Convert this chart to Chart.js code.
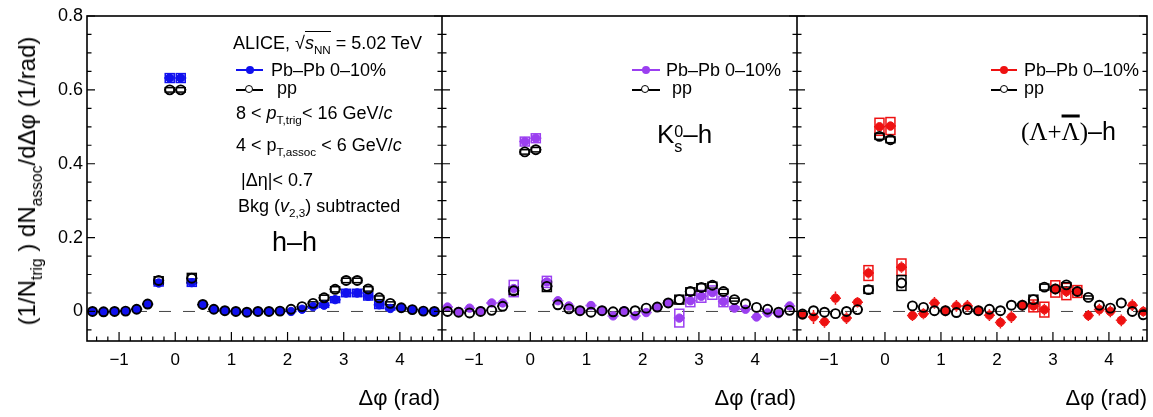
<!DOCTYPE html>
<html><head><meta charset="utf-8">
<script src="https://cdn.jsdelivr.net/npm/chart.js@4"></script>
<style>
html,body{margin:0;padding:0;background:#fff;}
#wrap{position:relative;width:1153px;height:417px;overflow:hidden;font-family:"Liberation Sans",Arial,sans-serif;color:#000;}
canvas{position:absolute;top:0;}
.t{position:absolute;white-space:nowrap;line-height:1;transform:translateY(-50%);font-size:18px;}
.t sub{font-size:65%;vertical-align:-0.45em;line-height:0;}
.ln{position:absolute;height:2px;}
.dot{position:absolute;width:8px;height:8px;border-radius:50%;}
.odot{position:absolute;width:6px;height:6px;border-radius:50%;border:1.7px solid #000;background:#fff;}
.xt{position:absolute;white-space:nowrap;line-height:1;transform:translate(-100%,-50%);font-size:22px;}
</style></head>
<body><div id="wrap">
<canvas id="c1" width="442" height="417" style="left:0px"></canvas>
<canvas id="c2" width="355" height="417" style="left:442px"></canvas>
<canvas id="c3" width="356" height="417" style="left:797px"></canvas>

<div class="t" style="left:27px;top:181px;font-size:24px;transform:translate(-50%,-50%) rotate(-90deg);">(1/N<sub>trig</sub> ) dN<sub>assoc</sub>/dΔφ (1/rad)</div>

<div class="xt" style="left:440px;top:398px;">Δφ (rad)</div>
<div class="xt" style="left:796px;top:398px;">Δφ (rad)</div>
<div class="xt" style="left:1147px;top:398px;">Δφ (rad)</div>

<!-- panel 1 annotations -->
<div class="t" style="left:233px;top:43px;">ALICE, √<span style="border-top:1.5px solid #000;padding-top:1px;"><i>s</i><sub>NN</sub></span> = 5.02 TeV</div>
<div class="ln" style="left:236px;top:69px;width:27px;background:#1010ee;"></div>
<div class="dot" style="left:246px;top:66px;background:#1010ee;"></div>
<div class="t" style="left:271px;top:70px;">Pb–Pb 0–10%</div>
<div class="ln" style="left:236px;top:89px;width:27px;background:#000;"></div>
<div class="odot" style="left:245px;top:85px;"></div>
<div class="t" style="left:277px;top:88px;">pp</div>
<div class="t" style="left:236px;top:113px;">8 &lt; <i>p</i><sub>T,trig</sub>&lt; 16 GeV/<i>c</i></div>
<div class="t" style="left:236px;top:145px;">4 &lt; p<sub>T,assoc</sub> &lt; 6 GeV/<i>c</i></div>
<div class="t" style="left:241px;top:180px;">|Δη|&lt; 0.7</div>
<div class="t" style="left:238px;top:206px;">Bkg (<i>v</i><sub>2,3</sub>) subtracted</div>
<div class="t" style="left:272px;top:242px;font-size:27px;">h–h</div>

<!-- panel 2 annotations -->
<div class="ln" style="left:632px;top:69px;width:28px;background:#9b3ff0;"></div>
<div class="dot" style="left:642px;top:66px;background:#9b3ff0;"></div>
<div class="t" style="left:666px;top:70px;">Pb–Pb 0–10%</div>
<div class="ln" style="left:632px;top:89px;width:28px;background:#000;"></div>
<div class="odot" style="left:641px;top:85px;"></div>
<div class="t" style="left:672px;top:88px;">pp</div>
<div class="t" style="left:657px;top:137px;font-size:26px;">K<span style="display:inline-block;font-size:62%;line-height:0.9;vertical-align:-0.55em;"><span style="display:block;">0</span><span style="display:block;">s</span></span>–h</div>

<!-- panel 3 annotations -->
<div class="ln" style="left:991px;top:69px;width:26px;background:#ee1111;"></div>
<div class="dot" style="left:1000px;top:66px;background:#ee1111;"></div>
<div class="t" style="left:1024px;top:70px;">Pb–Pb 0–10%</div>
<div class="ln" style="left:991px;top:89px;width:26px;background:#000;"></div>
<div class="odot" style="left:1000px;top:85px;"></div>
<div class="t" style="left:1024px;top:88px;">pp</div>
<div class="t" style="left:1021px;top:131px;font-size:25px;"><span style="font-family:'Liberation Serif',serif;">(Λ+<span style="text-decoration:overline;text-decoration-thickness:3px;">Λ</span>)</span>–h</div>
</div>

<script>
// ---------- data ----------
const phiBins = [-1.473,-1.276,-1.080,-0.884,-0.687,-0.491,-0.295,-0.098,0.098,0.295,0.491,0.687,0.884,1.080,1.276,1.473,1.669,1.865,2.062,2.258,2.454,2.651,2.847,3.043,3.240,3.436,3.632,3.829,4.025,4.221,4.418,4.614];
const xTickValues = [-1,0,1,2,3,4];
const yTickValues = [0,0.2,0.4,0.6,0.8];
const yTickLabels = ['0','0.2','0.4','0.6','0.8'];

// h-h
const hhPbPb     = [0.000,-0.001,0.000,0.001,0.006,0.019,0.077,0.632,0.632,0.078,0.018,0.006,0.002,0.000,-0.002,0.000,0.000,0.001,0.000,0.006,0.013,0.017,0.032,0.050,0.050,0.041,0.018,0.008,0.010,0.005,0.001,0.000];
const hhPbPbStat = [0.002,0.002,0.002,0.002,0.002,0.002,0.003,0.006,0.006,0.003,0.002,0.002,0.002,0.002,0.002,0.002,0.002,0.002,0.002,0.002,0.002,0.002,0.002,0.002,0.002,0.002,0.002,0.002,0.002,0.002,0.002,0.002];
const hhPbPbSys  = [0,0,0,0,0,0,0.008,0.012,0.012,0.010,0,0,0,0,0,0,0,0,0,0,0.004,0.006,0.008,0.010,0.010,0.010,0.010,0.004,0,0,0,0];
const hhPP       = [0.000,-0.001,0.000,0.001,0.006,0.020,0.084,0.600,0.600,0.090,0.019,0.006,0.002,0.000,-0.002,0.000,0.000,0.001,0.006,0.013,0.022,0.037,0.060,0.084,0.084,0.061,0.037,0.022,0.010,0.005,0.001,0.000];
const hhPPStat   = [0.002,0.002,0.002,0.002,0.002,0.002,0.003,0.005,0.005,0.003,0.002,0.002,0.002,0.002,0.002,0.002,0.002,0.002,0.002,0.002,0.002,0.002,0.002,0.002,0.002,0.002,0.002,0.002,0.002,0.002,0.002,0.002];
const hhPPSys    = [0,0,0,0,0,0,0.010,0.006,0.006,0.013,0,0,0,0,0,0,0,0,0,0,0.004,0.007,0.007,0.006,0.006,0.006,0.005,0.004,0,0,0,0];

// K0s-h
const k0PbPb     = [0.012,0.000,0.009,0.002,0.023,0.023,0.062,0.460,0.469,0.080,0.029,0.015,0.003,0.016,0.003,-0.012,0.002,-0.012,-0.003,0.012,0.023,-0.018,0.029,0.041,0.051,0.027,0.009,0.006,-0.015,-0.004,-0.006,0.015];
const k0PbPbStat = [0.005,0.005,0.005,0.005,0.005,0.005,0.007,0.010,0.010,0.007,0.005,0.005,0.005,0.005,0.005,0.005,0.005,0.005,0.005,0.005,0.005,0.006,0.006,0.006,0.006,0.006,0.005,0.005,0.005,0.005,0.005,0.005];
const k0PbPbSys  = [0,0,0,0,0,0,0.022,0.012,0.012,0.015,0,0,0,0,0,0,0,0,0,0,0,0.024,0.016,0.016,0.018,0.014,0.004,0,0,0,0,0];
const k0PP       = [0.000,-0.002,-0.004,0.000,0.003,0.014,0.056,0.432,0.438,0.068,0.018,0.007,0.002,-0.002,0.002,-0.001,0.000,0.002,0.009,0.012,0.023,0.032,0.054,0.065,0.071,0.054,0.032,0.021,0.011,0.006,-0.002,0.003];
const k0PPStat   = [0.003,0.003,0.003,0.003,0.003,0.003,0.004,0.006,0.006,0.004,0.003,0.003,0.003,0.003,0.003,0.003,0.003,0.003,0.003,0.003,0.003,0.003,0.003,0.003,0.003,0.003,0.003,0.003,0.003,0.003,0.003,0.003];
const k0PPSys    = [0,0,0,0,0,0,0.010,0.006,0.006,0.014,0,0,0,0,0,0,0,0,0,0,0.004,0.012,0.010,0.010,0.008,0.006,0.004,0,0,0,0,0];

// (Lambda+antiLambda)-h
const laPbPb     = [-0.009,-0.015,-0.028,0.036,-0.018,0.025,0.104,0.500,0.502,0.120,-0.011,-0.006,0.023,0.002,0.015,0.015,0.002,-0.010,-0.030,-0.015,0.017,0.015,0.005,0.061,0.054,0.054,-0.011,0.005,0.000,-0.024,0.017,0.000];
const laPbPbStat = [0.013,0.019,0.016,0.018,0.016,0.014,0.015,0.012,0.012,0.015,0.015,0.015,0.016,0.015,0.016,0.016,0.014,0.016,0.016,0.016,0.015,0.016,0.016,0.015,0.015,0.013,0.015,0.016,0.016,0.016,0.016,0.014];
const laPbPbSys  = [0,0,0,0,0,0,0.020,0.023,0.023,0.022,0,0,0,0,0,0,0,0,0,0,0,0.016,0.020,0.022,0.022,0.016,0,0,0,0,0,0];
const laPP       = [-0.007,0.002,-0.002,-0.006,0.000,0.005,0.059,0.474,0.465,0.077,0.015,0.011,0.002,0.002,-0.003,0.005,0.002,0.006,0.002,0.017,0.017,0.032,0.066,0.061,0.072,0.054,0.038,0.017,0.009,0.023,0.000,-0.009];
const laPPStat   = [0.004,0.004,0.004,0.004,0.004,0.004,0.006,0.008,0.008,0.006,0.004,0.004,0.004,0.004,0.004,0.004,0.004,0.004,0.004,0.004,0.004,0.004,0.004,0.004,0.004,0.004,0.004,0.004,0.004,0.004,0.004,0.004];
const laPPSys    = [0,0,0,0,0,0,0.010,0.008,0.008,0.020,0,0,0,0,0,0,0,0,0,0,0.004,0.012,0.008,0.006,0.006,0.005,0.004,0,0,0,0,0];

// ---------- drawing ----------
const FONT = "'Liberation Sans', Arial, sans-serif";
const xHalfBin = 0.098;
const boxHalf = 0.08;
const markerR = 4.5;
const extras = {};

const rootPlugin = {
  id: 'rootStyle',
  beforeDatasetsDraw(chart) {
    const {ctx, chartArea: a, scales: {x, y}} = chart;
    const ex = extras[chart.canvas.id];
    ctx.save();
    ctx.beginPath(); ctx.rect(a.left, a.top, a.right - a.left, a.bottom - a.top); ctx.clip();
    const y0 = y.getPixelForValue(0);
    ctx.setLineDash([12, 12]); ctx.strokeStyle = '#444'; ctx.lineWidth = 1;
    ctx.beginPath(); ctx.moveTo(a.left, y0); ctx.lineTo(a.right, y0); ctx.stroke();
    ctx.setLineDash([]);
    ex.series.forEach(s => {
      ctx.strokeStyle = s.color; ctx.lineWidth = 1.5;
      phiBins.forEach((xv, i) => {
        const v = s.values[i];
        const px = x.getPixelForValue(xv);
        const py = y.getPixelForValue(v);
        if (s.sys[i] > 0) {
          const l = x.getPixelForValue(xv - boxHalf), r = x.getPixelForValue(xv + boxHalf);
          const t = y.getPixelForValue(v + s.sys[i]), b = y.getPixelForValue(v - s.sys[i]);
          ctx.strokeRect(l, t, r - l, b - t);
        }
        ctx.beginPath();
        const top = y.getPixelForValue(v + s.stat[i]), bot = y.getPixelForValue(v - s.stat[i]);
        if (py - top > markerR) { ctx.moveTo(px, top); ctx.lineTo(px, py - markerR); ctx.moveTo(px, py + markerR); ctx.lineTo(px, bot); }
        const l = x.getPixelForValue(xv - xHalfBin), r = x.getPixelForValue(xv + xHalfBin);
        ctx.moveTo(l, py); ctx.lineTo(px - markerR, py); ctx.moveTo(px + markerR, py); ctx.lineTo(r, py);
        ctx.stroke();
      });
    });
    ctx.restore();
  },
  afterDatasetsDraw(chart) {
    const {ctx, chartArea: a, scales: {x, y}} = chart;
    ctx.save();
    ctx.strokeStyle = '#000'; ctx.lineWidth = 1.6;
    ctx.strokeRect(a.left, a.top, a.right - a.left, a.bottom - a.top);
    ctx.lineWidth = 1.2;
    ctx.beginPath();
    for (let k = -8; k <= 24; k++) {
      const v = k * 0.2;
      if (v < x.min || v > x.max) continue;
      const px = x.getPixelForValue(v);
      const major = Math.abs(v - Math.round(v)) < 1e-6;
      ctx.moveTo(px, a.bottom); ctx.lineTo(px, a.bottom - (major ? 9 : 4.5));
    }
    for (let k = -1; k <= 16; k++) {
      const v = k * 0.05;
      if (v < y.min || v > y.max + 1e-9) continue;
      const py = y.getPixelForValue(v);
      const major = k % 4 === 0;
      const len = major ? 8 : 4.5;
      ctx.moveTo(a.left, py); ctx.lineTo(a.left + len, py);
      ctx.moveTo(a.right, py); ctx.lineTo(a.right - len, py);
    }
    ctx.stroke();
    ctx.restore();
  }
};

function makePanel(id, cfg) {
  extras[id] = {series: [
    {values: cfg.pbpb, stat: cfg.pbpbStat, sys: cfg.pbpbSys, color: cfg.color},
    {values: cfg.pp, stat: cfg.ppStat, sys: cfg.ppSys, color: '#000'}
  ]};
  return new Chart(document.getElementById(id), {
    type: 'scatter',
    data: {datasets: [
      {label: 'pp', data: phiBins.map((x, i) => ({x, y: cfg.pp[i]})), pointStyle: 'circle', pointRadius: markerR,
       borderColor: '#000', backgroundColor: 'rgba(0,0,0,0)', borderWidth: 1.9},
      {label: 'Pb–Pb 0–10%', data: phiBins.map((x, i) => ({x, y: cfg.pbpb[i]})), pointStyle: 'circle', pointRadius: 4.2,
       borderColor: cfg.color, backgroundColor: cfg.color, borderWidth: 1}
    ]},
    options: {
      responsive: false, animation: false, events: [],
      layout: {autoPadding: false, padding: {top: 16, left: 0, right: cfg.padRight, bottom: 0}},
      plugins: {legend: {display: false}, tooltip: {enabled: false}},
      scales: {
        x: {type: 'linear', min: cfg.xmin, max: cfg.xmax,
            afterBuildTicks: s => { s.ticks = xTickValues.map(v => ({value: v})); },
            afterFit: s => { s.height = 76; },
            grid: {display: false, drawTicks: false}, border: {display: false},
            ticks: {padding: 9, color: '#000', font: {size: 17, family: FONT}, maxRotation: 0, autoSkip: false,
                    callback: v => (v < 0 ? '\u2212' + Math.abs(v) : String(v))}},
        y: {type: 'linear', min: -0.08, max: 0.8, display: cfg.showY,
            afterBuildTicks: s => { s.ticks = yTickValues.map(v => ({value: v})); },
            afterFit: s => { s.width = cfg.showY ? 87 : 0; },
            grid: {display: false, drawTicks: false}, border: {display: false},
            ticks: {padding: 4, color: '#000', font: {size: 18, family: FONT},
                    callback: (v) => yTickLabels[yTickValues.indexOf(v)] ?? ''}}
      }
    },
    plugins: [rootPlugin]
  });
}

makePanel('c1', {pbpb: hhPbPb, pbpbStat: hhPbPbStat, pbpbSys: hhPbPbSys, pp: hhPP, ppStat: hhPPStat, ppSys: hhPPSys,
  color: '#1010ee', xmin: -1.571, xmax: 4.75, padRight: 0, showY: true});
makePanel('c2', {pbpb: k0PbPb, pbpbStat: k0PbPbStat, pbpbSys: k0PbPbSys, pp: k0PP, ppStat: k0PPStat, ppSys: k0PPSys,
  color: '#9b3ff0', xmin: -1.571, xmax: 4.745, padRight: 0, showY: false});
makePanel('c3', {pbpb: laPbPb, pbpbStat: laPbPbStat, pbpbSys: laPbPbSys, pp: laPP, ppStat: laPPStat, ppSys: laPPSys,
  color: '#ee1111', xmin: -1.571, xmax: 4.68, padRight: 6, showY: false});
</script>
</body></html>
